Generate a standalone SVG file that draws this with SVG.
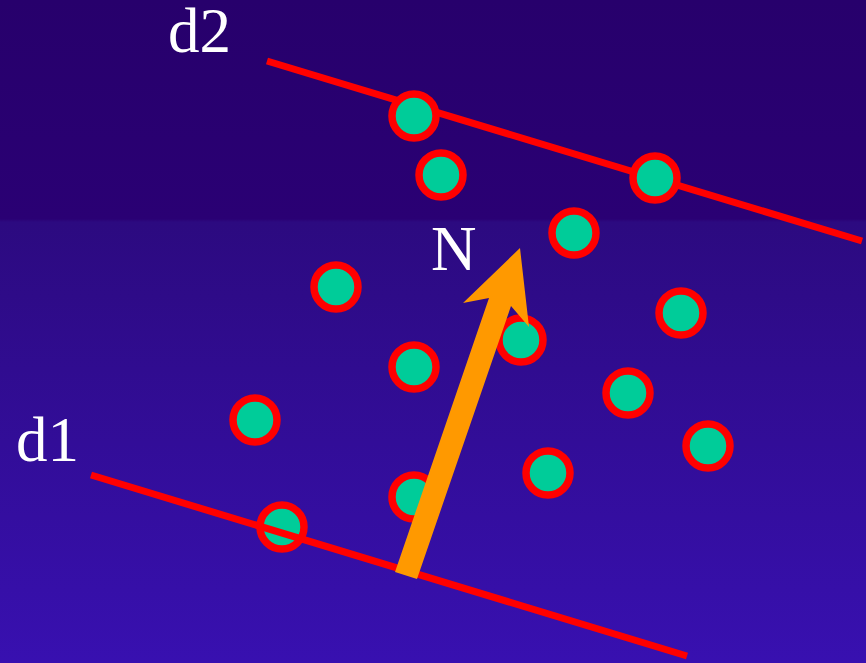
<svg xmlns="http://www.w3.org/2000/svg" width="866" height="663" viewBox="0 0 866 663">
<defs>
<linearGradient id="bg" x1="0" y1="0" x2="0" y2="1">
<stop offset="0" stop-color="#27006c"/>
<stop offset="0.33" stop-color="#2a0074"/>
<stop offset="0.335" stop-color="#2c0a80"/>
<stop offset="1" stop-color="#3810b0"/>
</linearGradient>
<style>
.pt{fill:#00cc99;stroke:#ff0000;stroke-width:7.5}
.ln{stroke:#ff0000;stroke-width:7;fill:none}
.lbl{font-family:"Liberation Serif","Times New Roman",serif;font-size:63px;fill:#ffffff}
</style>
</defs>
<rect x="0" y="0" width="866" height="663" fill="url(#bg)"/>
<g id="connectors">
<line id="d2-line" class="ln" x1="267" y1="61" x2="862" y2="241"/>
</g>
<g id="points">
<circle id="p1" class="pt" cx="414" cy="116" r="22"/>
<circle id="p2" class="pt" cx="441" cy="175" r="22"/>
<circle id="p3" class="pt" cx="655" cy="178" r="22"/>
<circle id="p4" class="pt" cx="574" cy="233" r="22"/>
<circle id="p5" class="pt" cx="336" cy="287" r="22"/>
<circle id="p6" class="pt" cx="681" cy="313" r="22"/>
<circle id="p7" class="pt" cx="521" cy="340" r="22"/>
<circle id="p8" class="pt" cx="414" cy="367" r="22"/>
<circle id="p9" class="pt" cx="628" cy="393" r="22"/>
<circle id="p10" class="pt" cx="255" cy="420" r="22"/>
<circle id="p11" class="pt" cx="708" cy="446" r="22"/>
<circle id="p12" class="pt" cx="548" cy="473" r="22"/>
<circle id="p13" class="pt" cx="414" cy="497" r="22"/>
<circle id="p14" class="pt" cx="282" cy="527" r="22"/>
</g>
<g id="d1">
<line id="d1-line" class="ln" x1="91" y1="475" x2="687" y2="656"/>
</g>
<g id="normal">
<polygon points="520,248 529,327 511,306 417,579 395,572 489,298 463,303" fill="#ff9900"/>
</g>
<g id="labels">
<text class="lbl" x="168" y="52">d2</text>
<text class="lbl" x="16" y="461">d1</text>
<text class="lbl" x="431" y="270">N</text>
</g>
</svg>
